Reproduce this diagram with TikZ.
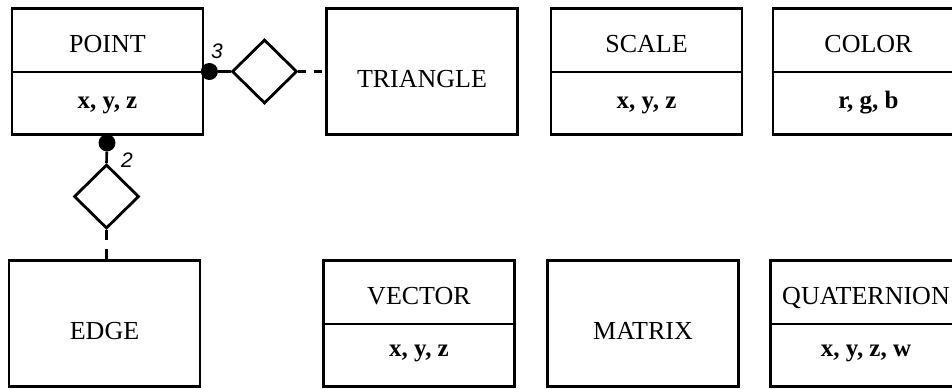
\documentclass[tikz,border=0pt]{standalone}
\usepackage{fontspec}
\setmainfont{Liberation Serif}
\newfontfamily\multfont{Liberation Sans}
\usetikzlibrary{shapes.geometric,calc}

\tikzset{
  classbox/.style={draw, line width=2.8pt, minimum width=191pt, minimum height=126pt, inner sep=0pt},
  divider/.style={line width=2pt},
  nametext/.style={anchor=base, font=\fontsize{26}{30}\selectfont},
  attrtext/.style={anchor=base, font=\fontsize{25}{28}\selectfont\bfseries},
  relation/.style={draw, diamond, line width=2.8pt, minimum width=65pt, minimum height=64pt, inner sep=0pt},
  multdot/.style={circle, fill, inner sep=0pt, minimum size=17pt},
  multtext/.style={font=\fontsize{21}{24}\selectfont\multfont\itshape},
  link/.style={line width=2.6pt},
}

\begin{document}
\begin{tikzpicture}[x=1pt, y=-1pt]
  \useasboundingbox (0,0) rectangle (952,388);
  \clip (0,0) rectangle (952,388);
  % Class boxes
  \foreach \name/\cx/\cy in {point/107.5/71.5, triangle/422/71.5, scale/646.5/71.5, color/868.5/71.5,
                             edge/104.5/323.5, vector/419/323.5, matrix/643/323.5, quaternion/866/323.5} {
    \node[classbox] (\name) at (\cx,\cy) {};
  }
  % Dividers
  \foreach \name in {point, scale, color, vector, quaternion} {
    \draw[divider] (\name.west) -- (\name.east);
  }
  % Class names
  \node[nametext] (point-name) at ($(point.north)+(0,45)$) {POINT};
  \node[nametext] (scale-name) at ($(scale.north)+(0,45)$) {SCALE};
  \node[nametext] (color-name) at ($(color.north)+(0,45)$) {COLOR};
  \node[nametext] (vector-name) at ($(vector.north)+(0,45)$) {VECTOR};
  \node[nametext] (quaternion-name) at ($(quaternion.north)+(0,45)$) {QUATERNION};
  \node[nametext] (triangle-name) at ($(triangle.center)+(0,16)$) {TRIANGLE};
  \node[nametext] (edge-name) at ($(edge.center)+(0,16)$) {EDGE};
  \node[nametext] (matrix-name) at ($(matrix.center)+(0,16)$) {MATRIX};
  % Attributes
  \node[attrtext] (point-attr) at ($(point.south)+(0,-27)$) {x, y, z};
  \node[attrtext] (scale-attr) at ($(scale.south)+(0,-27)$) {x, y, z};
  \node[attrtext] (color-attr) at ($(color.south)+(0,-27)$) {r, g, b};
  \node[attrtext] (vector-attr) at ($(vector.south)+(0,-31)$) {x, y, z};
  \node[attrtext] (quaternion-attr) at ($(quaternion.south)+(0,-31)$) {x, y, z, w};
  % Relation point -- triangle
  \node[multdot] (point-dot3) at ($(point.east)+(5,0)$) {};
  \node[relation] (triangle-rel) at (264.5,71.5) {};
  \draw[link] (point-dot3) -- (triangle-rel.west);
  \draw[link, dash pattern=on 8pt off 8pt] (triangle-rel.east) -- (triangle.west);
  \node[multtext] (mult3) at (217,51) {3};
  % Relation point -- edge
  \node[multdot] (point-dot2) at ($(point.south)+(-0.5,7)$) {};
  \node[relation] (edge-rel) at (106.5,196.5) {};
  \draw[link] (point-dot2) -- (edge-rel.north);
  \draw[link, dash pattern=on 10pt off 9pt] (edge-rel.south) -- (edge-rel.south |- edge.north);
  \node[multtext] (mult2) at (127,160) {2};
\end{tikzpicture}
\end{document}
